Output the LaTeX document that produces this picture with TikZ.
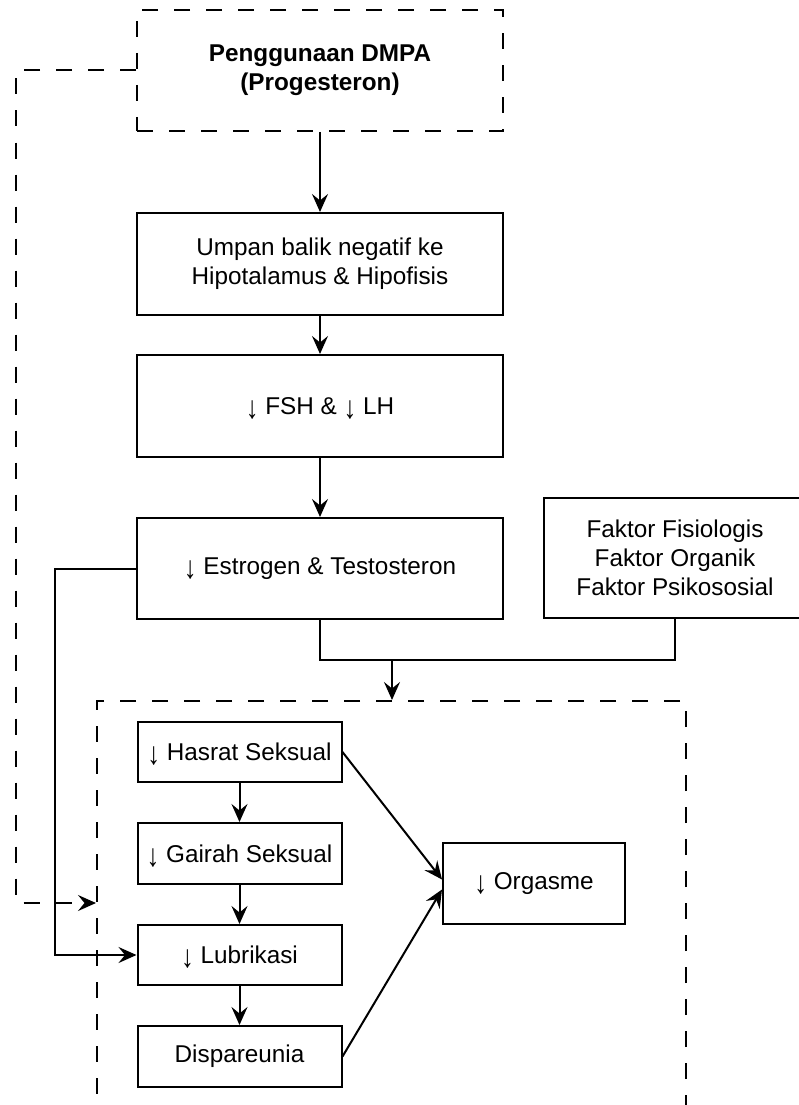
\documentclass[tikz,border=0pt]{standalone}
\usepackage{fontspec}
\setmainfont{Liberation Sans}
\usetikzlibrary{arrows.meta}
\newcommand{\dnarr}{\smash{\raisebox{-0.17em}{\scalebox{1.05}[1.3]{↓}}}}
\begin{document}
\begin{tikzpicture}[x=1pt,y=-1pt,
  box/.style={draw, line width=2pt, rectangle, inner sep=0pt, align=center, font=\fontsize{24.3}{29}\selectfont},
  dbox/.style={box, dash pattern=on 16pt off 16pt},
  conn/.style={line width=2pt},
  arr/.style={line width=2pt, -{Stealth[length=18pt,width=16pt,inset=6.5pt]}},
  darr/.style={arr, dash pattern=on 16pt off 16pt}]
\useasboundingbox (0,0) rectangle (799,1105);
\clip (0,0) rectangle (799,1105);
\fill[white] (0,0) rectangle (799,1105);

% group box (open at the bottom of the picture)
\node[dbox, minimum width=589pt, minimum height=429pt] (grp) at (391.5,915.5) {};

\node[dbox, minimum width=366pt, minimum height=121pt, font=\bfseries\fontsize{24.3}{29}\selectfont] (top) at (320,70.5) {Penggunaan DMPA\\(Progesteron)};
\node[box, minimum width=366pt, minimum height=102pt] (ump) at (320,264) {Umpan balik negatif ke\\Hipotalamus \& Hipofisis};
\node[box, minimum width=366pt, minimum height=102pt] (fsh) at (320,406) {\dnarr\ FSH \& \dnarr\ LH};
\node[box, minimum width=366pt, minimum height=101pt] (est) at (320,568.5) {\dnarr\ Estrogen \& Testosteron};
\node[box, minimum width=262pt, minimum height=120pt] (fak) at (675,558) {Faktor Fisiologis\\Faktor Organik\\Faktor Psikososial};

\node[box, minimum width=204pt, minimum height=60pt] (has) at (239.5,752) {\dnarr\ Hasrat Seksual};
\node[box, minimum width=204pt, minimum height=61pt] (gai) at (239.5,853.5) {\dnarr\ Gairah Seksual};
\node[box, minimum width=204pt, minimum height=60pt] (lub) at (239.5,955) {\dnarr\ Lubrikasi};
\node[box, minimum width=204pt, minimum height=61pt] (dis) at (239.5,1056.5) {Dispareunia};
\node[box, minimum width=182pt, minimum height=81pt] (org) at (534,883.5) {\dnarr\ Orgasme};

\coordinate (fbc) at (16,903);
\coordinate (mrg) at (392,660);

% main chain
\draw[arr] (top) -- (ump);
\draw[arr] (ump) -- (fsh);
\draw[arr] (fsh) -- (est);

% merge into group
\draw[conn] (est.south) |- (mrg) -| (fak.south);
\draw[arr] (mrg) -- (mrg |- grp.north);

% feedback (dashed)
\draw[darr] (top.west) -| (fbc) -- (fbc -| grp.west);

% estrogen to lubrikasi
\draw[arr] (est.west) -- ++(-81,0) |- (lub.west);

% inner chain
\draw[arr] (has) -- (gai);
\draw[arr] (gai) -- (lub);
\draw[arr] (lub) -- (dis);

% to orgasme
\draw[arr] (has.east) -- ([yshift=4pt]org.west);
\draw[arr] (dis.east) -- ([yshift=-6pt]org.west);
\end{tikzpicture}
\end{document}
